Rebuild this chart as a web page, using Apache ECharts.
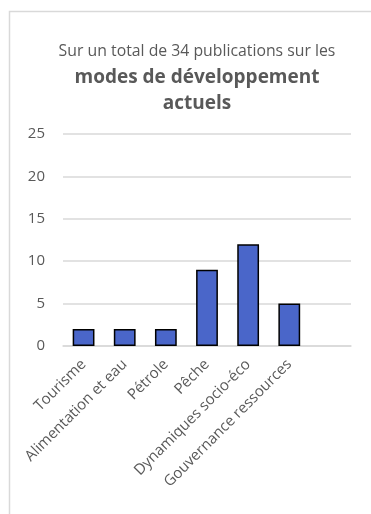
<!DOCTYPE html>
<html>
<head>
<meta charset="utf-8">
<script src="https://cdn.jsdelivr.net/npm/echarts@6/dist/echarts.min.js"></script>
<style>
html, body { margin: 0; padding: 0; background: #fff; }
#main { width: 371px; height: 514px; }
</style>
</head>
<body>
<div id="main"></div>
<script>
// data
var categories = ['Tourisme', 'Alimentation et eau', 'Pétrole', 'Pêche', 'Dynamiques socio-éco', 'Gouvernance ressources', ''];
var publications = [2, 2, 2, 9, 12, 5, null];
var yTicks = { min: 0, max: 25, interval: 5 };

var chart = echarts.init(document.getElementById('main'));
var option = {
    backgroundColor: '#fff',
    animation: false,
    graphic: [
        {
            type: 'rect',
            shape: { x: 9.5, y: 11.5, width: 500, height: 600 },
            style: { fill: 'none', stroke: '#d9d9d9', lineWidth: 1.5 },
            silent: true
        }
    ],
    title: {
        left: 192,
        top: 33,
        textAlign: 'center',
        text: '{a|Sur un total de 34 publications sur les}\n{b|modes de développement}\n{b|actuels}',
        textStyle: {
            rich: {
                a: { fontFamily: 'Open Sans', fontSize: 15.8, fontWeight: 'normal', color: '#595959', lineHeight: 27 },
                b: { fontFamily: 'Open Sans', fontSize: 19, fontWeight: 'bold', color: '#595959', lineHeight: 26 }
            }
        }
    },
    grid: { left: 63, right: 20, top: 134, bottom: 168 },
    xAxis: {
        type: 'category',
        data: categories,
        axisLine: { lineStyle: { color: '#d9d9d9', width: 1.5 } },
        axisTick: { show: false },
        axisLabel: {
            interval: 0,
            rotate: 45,
            margin: 16,
            color: '#595959',
            fontFamily: 'Open Sans',
            fontSize: 15
        }
    },
    yAxis: {
        type: 'value',
        min: yTicks.min,
        max: yTicks.max,
        interval: yTicks.interval,
        axisLine: { show: false },
        axisTick: { show: false },
        splitLine: { lineStyle: { color: '#d9d9d9', width: 1.5 } },
        axisLabel: {
            margin: 18,
            color: '#595959',
            fontFamily: 'Open Sans',
            fontSize: 15
        }
    },
    series: [
        {
            type: 'bar',
            data: publications,
            barWidth: '53%',
            itemStyle: {
                color: '#4a66c9',
                borderColor: '#000',
                borderWidth: 1.5
            }
        }
    ]
};
chart.setOption(option);
</script>
</body>
</html>
